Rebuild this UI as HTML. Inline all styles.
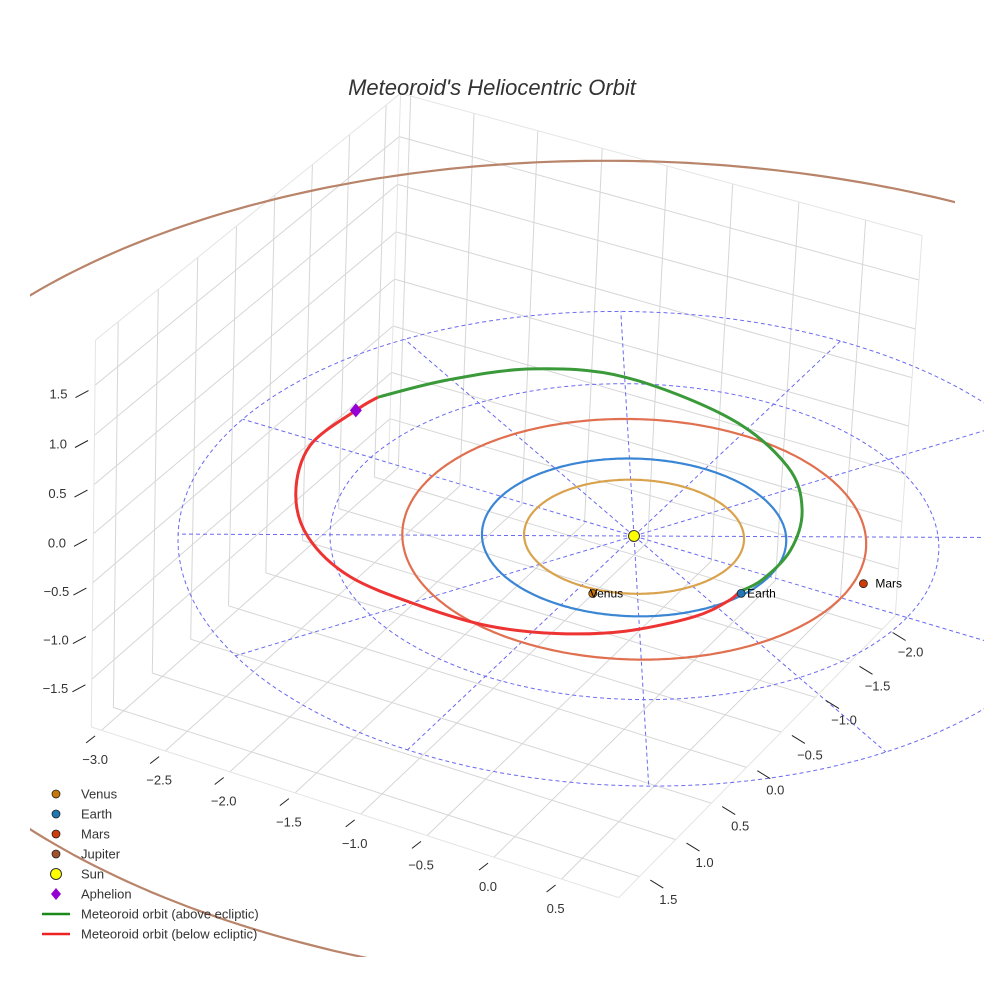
<!DOCTYPE html>
<html><head><meta charset="utf-8"><style>
html,body{margin:0;padding:0;background:#fff;}
svg{display:block;font-family:"Liberation Sans",sans-serif;}
</style></head><body>
<svg id="chart" width="984" height="984" viewBox="0 0 984 984">
<defs><clipPath id="sceneClip"><rect x="30" y="0" width="925" height="957"/></clipPath></defs>
<rect width="984" height="984" fill="#fff"/>
<g id="grid"></g>
<g id="rings"></g>
<g id="orbits" clip-path="url(#sceneClip)"></g>
<g id="meteor"></g>
<g id="markers"></g>
<g id="ticks"></g>
<text x="492" y="95" text-anchor="middle" font-size="22" font-style="italic" fill="#333">Meteoroid's Heliocentric Orbit</text>
<g id="legend"></g>
</svg>
<script>
// ---- data ----
const xTicks = [-3.0,-2.5,-2.0,-1.5,-1.0,-0.5,0.0,0.5];
const yTicks = [-2.0,-1.5,-1.0,-0.5,0.0,0.5,1.0,1.5];
const zTicks = [-1.5,-1.0,-0.5,0.0,0.5,1.0,1.5];
const xRange = [-3.08,0.92];
const yRange = [-2.2,1.78];
const zRange = [-2.0,1.95];
const planetNames = ["Venus","Earth","Mars","Jupiter"];
const planetRadii = [0.723,1.0,1.524,5.2];
const planetColors = ["#d9a34e","#3a86d4","#e0704f","#b8846a"];
const markerColors = ["#c8780a","#1f77b4","#cc3d0a","#a0522d"];
const planetPosX = [0.11,0.94,1.57];
const planetPosY = [0.77,0.28,-0.23];
const refRingRadii = [1,2,3];
const radialAngles = [0,30,60,90,120,150,180,210,240,270,300,330];
const aboveX = [0.92,0.98,0.97,0.80,0.46,-0.17,-1.05,-1.64,-2.07,-2.36,-2.40];
const aboveY = [0.27,0.06,-0.36,-0.86,-1.31,-1.68,-1.81,-1.59,-1.16,-0.72,-0.49];
const belowX = [-2.36,-2.40,-2.43,-2.20,-1.84,-1.35,-0.78,-0.28,0.14,0.51,0.81,0.91,0.92];
const belowY = [-0.72,-0.49,0.07,0.65,1.10,1.39,1.47,1.46,1.32,1.07,0.69,0.41,0.27];
const aphelionPos = [-2.40,-0.49,0];
const legendLabels = ["Venus","Earth","Mars","Jupiter","Sun","Aphelion","Meteoroid orbit (above ecliptic)","Meteoroid orbit (below ecliptic)"];

const NS="http://www.w3.org/2000/svg";
function P(x,y,z){const w=0.5*x+0.85*y+0.4*z;const s=55/(55-w);return [634+s*(134*x-72*y+5*z),536+s*(40*x+68*y-98*z)];}
function mk(tag,attrs,parent){const e=document.createElementNS(NS,tag);for(const k in attrs)e.setAttribute(k,attrs[k]);parent.appendChild(e);return e;}
function poly(pts){return pts.map((p,i)=>(i?"L":"M")+p[0].toFixed(1)+","+p[1].toFixed(1)).join("");}
function smooth(pts){let d="M"+pts[0][0].toFixed(1)+","+pts[0][1].toFixed(1);for(let i=0;i<pts.length-1;i++){const p0=pts[Math.max(0,i-1)],p1=pts[i],p2=pts[i+1],p3=pts[Math.min(pts.length-1,i+2)];
const c1=[p1[0]+(p2[0]-p0[0])/6,p1[1]+(p2[1]-p0[1])/6],c2=[p2[0]-(p3[0]-p1[0])/6,p2[1]-(p3[1]-p1[1])/6];
d+="C"+c1[0].toFixed(1)+","+c1[1].toFixed(1)+" "+c2[0].toFixed(1)+","+c2[1].toFixed(1)+" "+p2[0].toFixed(1)+","+p2[1].toFixed(1);}return d;}
function circ(r,n){const a=[];for(let i=0;i<=n;i++){const t=i/n*2*Math.PI;a.push(P(r*Math.cos(t),r*Math.sin(t),0));}return a;}

// grid
const G=document.getElementById("grid");
const gc="#d6d6d6";
function gl(a,b,name,col){const l=mk("path",{d:poly([a,b]),stroke:col||gc,"stroke-width":1,fill:"none"},G);

}
const [x0,x1]=xRange,[y0,y1]=yRange,[z0,z1]=zRange;
xTicks.forEach(x=>{gl(P(x,y0,z0),P(x,y1,z0),"floor-gridline-x");gl(P(x,y0,z0),P(x,y0,z1),"backwall-gridline-x");});
yTicks.forEach(y=>{gl(P(x0,y,z0),P(x1,y,z0),"floor-gridline-y");gl(P(x0,y,z0),P(x0,y,z1),"sidewall-gridline-y");});
zTicks.forEach(z=>{gl(P(x0,y0,z),P(x1,y0,z),"backwall-gridline-z");gl(P(x0,y0,z),P(x0,y1,z),"sidewall-gridline-z");});
[[P(x0,y1,z0),P(x1,y1,z0)],[P(x1,y0,z0),P(x1,y1,z0)],[P(x0,y1,z0),P(x0,y1,z1)],[P(x0,y0,z1),P(x1,y0,z1)],[P(x0,y0,z1),P(x0,y1,z1)],[P(x1,y0,z0),P(x1,y0,z1)],[P(x0,y0,z0),P(x0,y0,z1)]].forEach(s=>gl(s[0],s[1],"box-edge","#e4e4e4"));

// reference rings
const R=document.getElementById("rings");
refRingRadii.forEach(r=>{const e=mk("path",{d:poly(circ(r,180)),stroke:"#6a6af0","stroke-width":1,"stroke-dasharray":"4,3",fill:"none"},R);

});
radialAngles.forEach(a=>{const t=a*Math.PI/180;const e=mk("path",{d:poly([P(0,0,0),P(3*Math.cos(t),3*Math.sin(t),0)]),stroke:"#6a6af0","stroke-width":1,"stroke-dasharray":"4,3",fill:"none"},R);

});

// planet orbits
const O=document.getElementById("orbits");
planetRadii.forEach((r,i)=>{const e=mk("path",{d:poly(circ(r,360)),stroke:planetColors[i],"stroke-width":2.2,fill:"none"},O);

});

// meteoroid
const M=document.getElementById("meteor");
const above=aboveX.map((x,i)=>P(x,aboveY[i],0));
const below=belowX.map((x,i)=>P(x,belowY[i],0));
const eb=mk("path",{d:smooth(below),stroke:"#ee3333","stroke-width":3,fill:"none"},M);


const ea=mk("path",{d:smooth(above.slice(0,-1)),stroke:"#3a9a3a","stroke-width":3,fill:"none"},M);



// markers
const K=document.getElementById("markers");
const sp=P(0,0,0);
const sun=mk("circle",{cx:sp[0],cy:sp[1],r:5.5,fill:"#ffff00",stroke:"#333","stroke-width":1},K);


planetPosX.forEach((x,i)=>{const p=P(x,planetPosY[i],0);
const c=mk("circle",{cx:p[0],cy:p[1],r:4,fill:markerColors[i],stroke:"#222","stroke-width":0.8},K);


const t=mk("text",{x:p[0]+(i==2?12:(i==1?6:-3)),y:p[1]+4,"font-size":12,fill:"#000"},K);t.textContent=planetNames[i];

});
const ap=P(aphelionPos[0],aphelionPos[1],aphelionPos[2]);
const am=mk("path",{d:`M${ap[0]},${ap[1]-7}L${ap[0]+6},${ap[1]}L${ap[0]},${ap[1]+7}L${ap[0]-6},${ap[1]}Z`,fill:"#9400d3"},K);



// ticks
const T=document.getElementById("ticks");
function tick(p,dx,dy,lx,ly,label,name){const l=mk("path",{d:poly([p,[p[0]+dx,p[1]+dy]]),stroke:"#222","stroke-width":1},T);


const t=mk("text",{x:p[0]+lx,y:p[1]+ly,"text-anchor":"middle","font-size":13,fill:"#333"},T);t.textContent=label.replace("-","\u2212");

}
xTicks.forEach(x=>tick(P(x,y1+0.08,z0),-9,7,0,28,x.toFixed(1),"x-axis"));
yTicks.forEach(y=>tick(P(x1+0.08,y,z0),13,8,18,24,y.toFixed(1),"y-axis"));
zTicks.forEach(z=>tick(P(x0,y1+0.08,z),-13,7,-30,8,z.toFixed(1),"z-axis"));

// legend
const L=document.getElementById("legend");
legendLabels.forEach((lab,i)=>{const y=794+i*20;const g=mk("g",{},L);


if(i<4)mk("circle",{cx:56,cy:y,r:4,fill:markerColors[i],stroke:"#222","stroke-width":0.8},g);
else if(i==4)mk("circle",{cx:56,cy:y,r:5.5,fill:"#ffff00",stroke:"#333","stroke-width":1},g);
else if(i==5)mk("path",{d:`M56,${y-6}L61,${y}L56,${y+6}L51,${y}Z`,fill:"#9400d3"},g);
else mk("path",{d:`M42,${y}H70`,stroke:i==6?"#1a8a1a":"#ee2222","stroke-width":2.5},g);
const t=mk("text",{x:81,y:y+4.5,"font-size":13,fill:"#333"},g);t.textContent=lab;});
</script>
</body></html>
